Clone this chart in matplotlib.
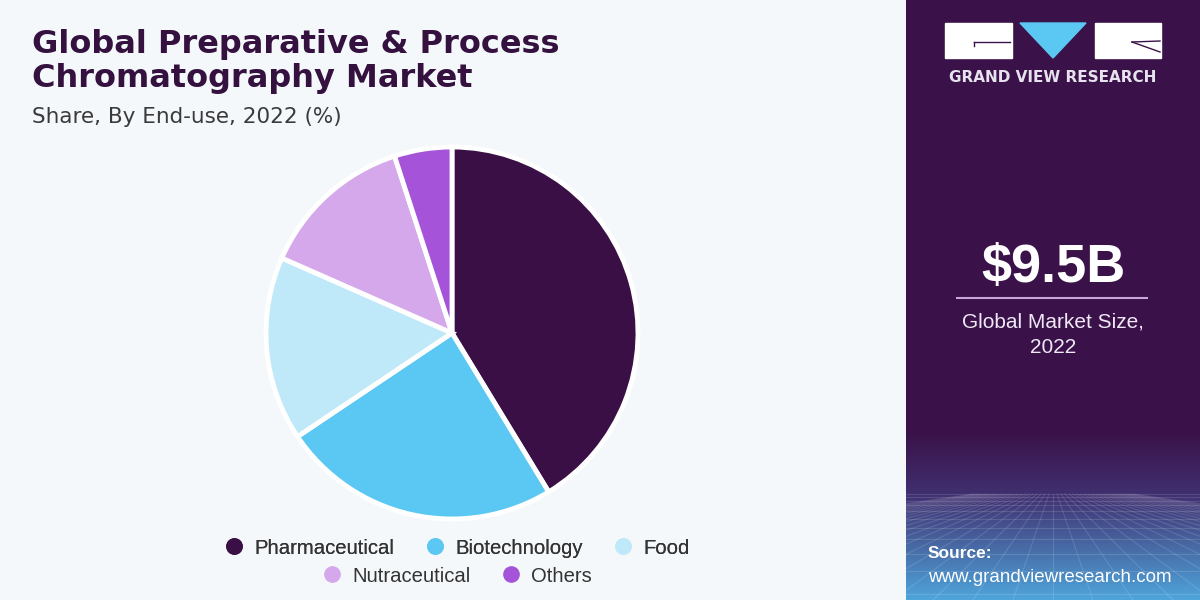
import numpy as np
import matplotlib.pyplot as plt
from matplotlib.lines import Line2D
from matplotlib.patches import Rectangle, Polygon

# Datos
segments = ["Pharmaceutical", "Biotechnology", "Food", "Nutraceutical", "Others"]
shares = [41.3, 24.3, 16.0, 13.4, 5.0]
colors = ["#3a0f46", "#5bc8f3", "#bfe9f8", "#d4a8ea", "#a553d8"]

title = "Global Preparative & Process\nChromatography Market"
subtitle = "Share, By End-use, 2022 (%)"
market_size = "$9.5B"
market_label = "Global Market Size,\n2022"

bg = "#f4f8fb"
panel = "#3a1148"
font = "Liberation Sans"

fig = plt.figure(figsize=(12, 6), dpi=100, facecolor=bg)

# Panel derecho con degradado
pax = fig.add_axes([906 / 1200, 0, 294 / 1200, 1])
pax.set_xlim(0, 294)
pax.set_ylim(600, 0)
pax.axis("off")
top = np.array([0x3a, 0x11, 0x48]) / 255
mid = np.array([0x40, 0x30, 0x70]) / 255
bot = np.array([0x4f, 0xa6, 0xdc]) / 255
img = np.zeros((600, 1, 3))
for y in range(600):
    if y < 430:
        img[y, 0] = top
    elif y < 495:
        t = (y - 430) / 65
        img[y, 0] = top * (1 - t) + mid * t
    else:
        t = (y - 495) / 105
        img[y, 0] = mid * (1 - t) + bot * t
pax.imshow(img, extent=[0, 294, 600, 0], aspect="auto")
# rejilla en perspectiva
for k in range(-20, 21):
    pax.plot([147 + k * 4, 147 + k * 40], [494, 600], color="white", alpha=0.13, lw=0.8)
yy = 494
step = 3
while yy < 600:
    pax.plot([0, 294], [yy, yy], color="white", alpha=0.13, lw=0.8)
    yy += step
    step *= 1.25
pax.set_xlim(0, 294)
pax.set_ylim(600, 0)

# Logo
pax.add_patch(Rectangle((39, 23), 67, 35, color="white"))
pax.add_patch(Polygon([[114, 23], [180, 23], [147, 58]], color="#5bc8f3"))
pax.add_patch(Rectangle((189, 23), 66, 35, color="white"))
pax.plot([68, 104], [42, 42], color=panel, lw=1)
pax.plot([68, 68], [42, 46], color=panel, lw=1)
pax.plot([226, 254], [42, 52], color=panel, lw=1)
pax.plot([226, 254], [42, 41], color=panel, lw=1)
pax.text(147, 78, "GRAND VIEW RESEARCH", color="#e6e2ee", fontsize=11,
         fontweight="bold", ha="center", va="center", family="DejaVu Sans")

pax.text(147, 268, market_size, color="white", fontsize=39, fontweight="bold",
         ha="center", va="center", family=font)
pax.plot([51, 241], [298, 298], color="#c5a6dc", lw=1.5)
pax.text(147, 335, market_label, color="#efe8f5", fontsize=15, ha="center",
         va="center", linespacing=1.45, family=font)
pax.text(22, 553, "Source:", color="white", fontsize=12.5, fontweight="bold",
         ha="left", va="center", family=font)
pax.text(22, 577, "www.grandviewresearch.com", color="white", fontsize=13.5,
         ha="left", va="center", family=font)

# Títulos
fig.text(32 / 1200, 1 - 29 / 600, title, color="#34113f", fontsize=23,
         fontweight="bold", ha="left", va="top", linespacing=1.12,
         family="DejaVu Sans")
fig.text(32 / 1200, 1 - 117 / 600, subtitle, color="#3a3a3a", fontsize=15.5,
         ha="left", va="center", family="DejaVu Sans")

# Pastel
r = 186
ax = fig.add_axes([(452 - r) / 1200, (600 - 333 - r) / 600, 2 * r / 1200, 2 * r / 600])
ax.pie(shares, colors=colors, startangle=90, counterclock=False,
       wedgeprops=dict(edgecolor="white", linewidth=3.5))
ax.set_xlim(-1.0, 1.0)
ax.set_ylim(-1.0, 1.0)
ax.set_aspect("equal")

# Leyenda
handles = [Line2D([], [], marker="o", ls="", markersize=11, color=c) for c in colors]
kw = dict(loc="center", frameon=False, columnspacing=1.4, handlelength=1.2,
          handletextpad=0.4, prop=dict(family=font, size=14.6))
leg1 = fig.legend(handles[:3], segments[:3], ncol=3,
                  bbox_to_anchor=(456 / 1200, 1 - 548 / 600), **kw)
leg2 = fig.legend(handles[3:], segments[3:], ncol=2,
                  bbox_to_anchor=(456 / 1200, 1 - 576 / 600), **kw)
fig.add_artist(leg1)
for t in leg1.get_texts() + leg2.get_texts():
    t.set_color("#333333")

fig.savefig("out.png", dpi=100, facecolor=bg)
